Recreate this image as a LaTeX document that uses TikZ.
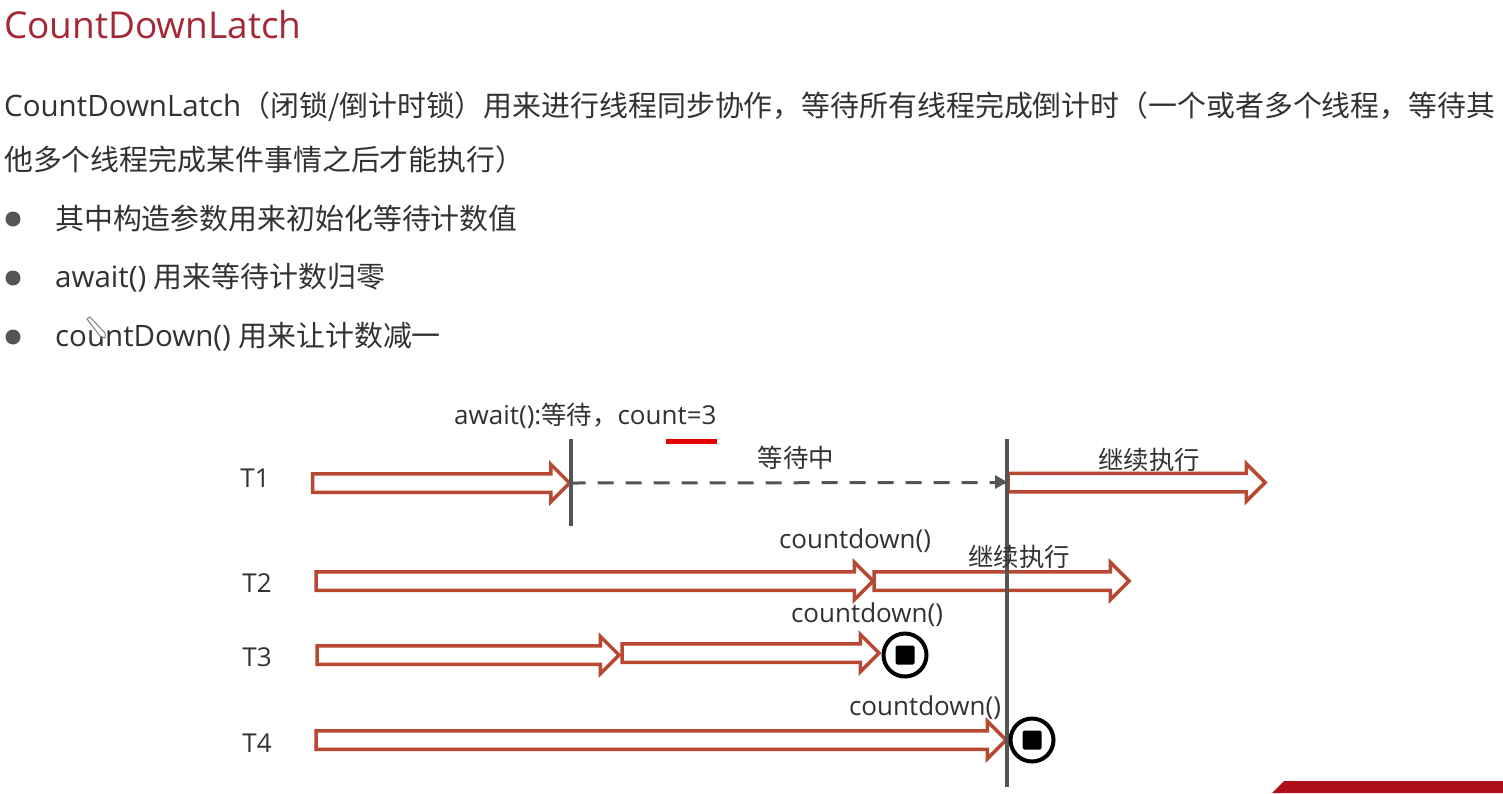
\documentclass[tikz,border=0pt]{standalone}
\usepackage{fontspec}
\setmainfont{Open Sans}
\newfontfamily\cjk{Noto Sans CJK SC}
\usetikzlibrary{shapes.arrows,arrows.meta}
\newcommand{\zh}[1]{{\cjk\fontsize{28.9}{29}\selectfont #1}}
\newcommand{\zhs}[1]{{\cjk\fontsize{25.4}{26}\selectfont #1}}
\definecolor{arrowred}{RGB}{184,72,50}
\definecolor{inkdark}{RGB}{50,50,50}
\definecolor{titlered}{RGB}{165,40,55}
\definecolor{linegray}{RGB}{85,85,85}
\definecolor{banner}{RGB}{175,15,25}
\tikzset{
  x=1pt,y=-1pt,
  body/.style={anchor=west,inner sep=0,font=\fontsize{29.5}{29.5}\selectfont,text=inkdark},
  lab/.style={anchor=center,inner sep=0,font=\fontsize{26}{26}\selectfont,text=inkdark},
  block/.style={single arrow,draw=arrowred,line width=3.5pt,fill=white,anchor=west,inner xsep=0,inner ysep=7.5pt,outer sep=0,
    minimum height=#1,single arrow head extend=9.5pt,single arrow head indent=0pt,miter limit=6},
  bar/.style={draw=linegray,line width=3.4pt},
  stopring/.style={circle,draw=black,line width=4pt,fill=white,minimum size=43pt,inner sep=0},
  stopsq/.style={draw=none,fill=black,rounded corners=1.5pt,minimum size=19pt,inner sep=0},
  dot/.style={circle,fill=linegray,minimum size=15pt,inner sep=0},
}
\begin{document}
\begin{tikzpicture}
\useasboundingbox (0,0) rectangle (1503,793);
\fill[white] (0,0) rectangle (1503,793);
\node[anchor=west,inner sep=0,font=\fontsize{37}{37}\selectfont,text=titlered] (title) at (4,25) {CountDownLatch};
\node[body] (p1) at (4,107) {CountDownLatch\zh{（闭锁/倒计时锁）用来进行线程同步协作，等待所有线程完成倒计时（一个或者多个线程，等待其}};
\node[body] (p2) at (4,160) {\zh{他多个线程完成某件事情之后才能执行）}};
\node[dot] (d1) at (13,219) {};
\node[dot] (d2) at (13,278) {};
\node[dot] (d3) at (13,337) {};
\node[body] (b1) at (55,219) {\zh{其中构造参数用来初始化等待计数值}};
\node[body] (b2) at (55,278) {await() \zh{用来等待计数归零}};
\node[body] (b3) at (55,337) {countDown() \zh{用来让计数减一}};

\draw[gray,line width=1pt,fill=white] (87,319) -- (90,317) -- (105,333) -- (105,338) -- (100,336) -- cycle;

\node[lab] (t1) at (255,478) {T1};
\node[lab] (t2) at (257,583) {T2};
\node[lab] (t3) at (257,657) {T3};
\node[lab] (t4) at (257,743) {T4};

\coordinate (v1top) at (571,439);
\coordinate (v1bot) at (571,526);
\coordinate (v2top) at (1007,439);
\coordinate (v2bot) at (1007,787);

\node[block=257pt] (a1) at (312.5,483) {};
\node[block=257pt] (a2) at (1008,482.5) {};
\node[block=557pt] (a3) at (316,581) {};
\node[block=255pt] (a4) at (874,581) {};
\node[block=302pt] (a5) at (317,655) {};
\node[block=257pt] (a6) at (622,653) {};
\node[block=690pt] (a7) at (316,740) {};

\draw[bar] (v1top) -- (v1bot);
\draw[bar] (v2top) -- (v2bot);
\draw[linegray,line width=3pt,dash pattern=on 16pt off 12pt] (a1.east) -- (a2.west);
\fill[linegray] (995,475) -- (1007,482) -- (995,489) -- cycle;

\node[stopring] (s1) at (905,655) {};
\node[stopsq] at (s1) {};
\node[stopring] (s2) at (1032,740) {};
\node[stopsq] at (s2) {};

\node[lab,anchor=west] (await) at (454,416) {await():\zhs{等待，}count=3};
\draw[draw=red!90!black,line width=5pt] (666,441) -- (717,441);
\node[lab] (wait) at (796,458) {\zhs{等待中}};
\node[lab] (go1) at (1149,460) {\zhs{继续执行}};
\node[lab] (go2) at (1019,557) {\zhs{继续执行}};
\node[lab] (c2) at (855,541) {countdown()};
\node[lab] (c3) at (867,615) {countdown()};
\node[lab] (c4) at (925,708) {countdown()};

\fill[banner] (1272,793) -- (1284,781) -- (1503,781) -- (1503,793) -- cycle;
\end{tikzpicture}
\end{document}
